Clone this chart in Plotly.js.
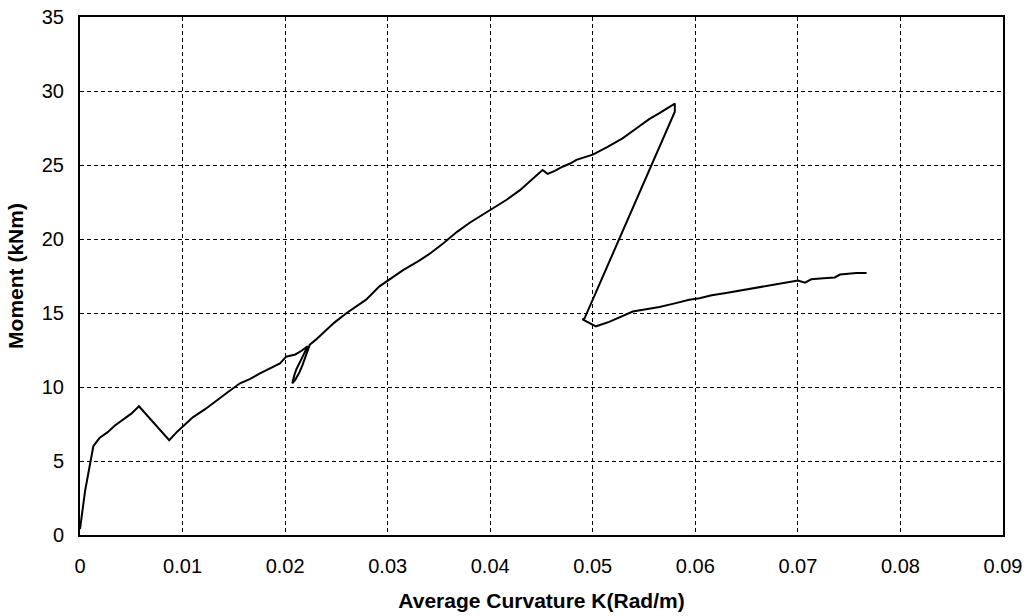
<!DOCTYPE html>
<html>
<head>
<meta charset="utf-8">
<script src="https://cdn.plot.ly/plotly-3.0.1.min.js"></script>
<style>html,body{margin:0;padding:0;background:#fff;}#chart{width:1032px;height:616px;}</style>
</head>
<body>
<div id="chart"></div>
<script>
// Average curvature K (Rad/m)
var curvature = [
  0.0000, 0.0005, 0.0013, 0.0019, 0.0027, 0.0034, 0.0044, 0.0050, 0.00575,
  0.0072, 0.0087, 0.0095, 0.0101, 0.0110, 0.0122, 0.0133, 0.0145, 0.0156,
  0.0166, 0.0175, 0.0185, 0.0195, 0.0201, 0.0205, 0.0210, 0.0216, 0.0222,
  0.0216, 0.0211, 0.0209, 0.0207, 0.0207, 0.0210, 0.0214, 0.0217, 0.0221, 0.0224,
  0.0230, 0.0237, 0.0248, 0.0260, 0.0270, 0.0279, 0.0292, 0.0303, 0.0315,
  0.0330, 0.0342, 0.0354, 0.0368, 0.0380, 0.0392, 0.0403, 0.0416, 0.0429,
  0.0440, 0.0451, 0.0456, 0.0463, 0.0471, 0.0478, 0.0484, 0.0492, 0.0500,
  0.0514, 0.0529, 0.0542, 0.0555, 0.0565, 0.0572, 0.0577, 0.0580, 0.0580,
  0.0492, 0.0490, 0.0497, 0.0503, 0.0516, 0.0528, 0.0539, 0.0552, 0.0565,
  0.0580, 0.0594, 0.0604, 0.0616, 0.0630, 0.0643, 0.0656, 0.0669, 0.0685,
  0.0700, 0.0707, 0.0713, 0.0725, 0.0736, 0.0741, 0.0750, 0.0757, 0.0767
];
// Moment (kNm)
var moment = [
  0.4, 3.0, 6.0, 6.55, 6.95, 7.4, 7.9, 8.2, 8.7,
  7.6, 6.4, 7.0, 7.4, 7.95, 8.5, 9.1, 9.7, 10.25,
  10.55, 10.9, 11.25, 11.6, 12.05, 12.1, 12.2, 12.45, 12.75,
  11.9, 11.2, 10.8, 10.4, 10.25, 10.5, 11.0, 11.5, 12.2, 12.85,
  13.2, 13.65, 14.35, 15.0, 15.45, 15.9, 16.8, 17.35, 17.9,
  18.5, 19.05, 19.7, 20.5, 21.1, 21.6, 22.07, 22.65, 23.3,
  23.95, 24.66, 24.4, 24.6, 24.9, 25.1, 25.35, 25.5, 25.7,
  26.2, 26.8, 27.45, 28.1, 28.5, 28.8, 29.0, 29.15, 28.6,
  14.64, 14.57, 14.3, 14.1, 14.4, 14.75, 15.1, 15.25, 15.4,
  15.65, 15.9, 16.0, 16.2, 16.35, 16.5, 16.65, 16.8, 17.0,
  17.2, 17.05, 17.28, 17.35, 17.4, 17.6, 17.65, 17.7, 17.7
];
var xTicks = [0, 0.01, 0.02, 0.03, 0.04, 0.05, 0.06, 0.07, 0.08, 0.09];
var xTickText = ["0", "0.01", "0.02", "0.03", "0.04", "0.05", "0.06", "0.07", "0.08", "0.09"];
var yTicks = [0, 5, 10, 15, 20, 25, 30, 35];

var trace = {
  x: curvature, y: moment, type: 'scatter', mode: 'lines',
  line: {color: '#000', width: 2}, hoverinfo: 'none'
};
var fam = 'Liberation Sans, Arial, sans-serif';
var tickFont = {family: fam, size: 20, color: '#000'};
var titleFont = {family: fam, size: 21, color: '#000', weight: 'bold'};
var layout = {
  width: 1032, height: 616,
  margin: {l: 80, r: 29, t: 17, b: 81},
  paper_bgcolor: '#fff', plot_bgcolor: '#fff',
  showlegend: false,
  font: tickFont,
  xaxis: {
    range: [0, 0.09], tickvals: xTicks, ticktext: xTickText,
    showgrid: true, gridcolor: '#000', griddash: '4px,3px', gridwidth: 1,
    showline: true, linecolor: '#000', linewidth: 2, mirror: true,
    zeroline: false, ticks: '', ticklen: 0, tickfont: tickFont,
    ticklabelstandoff: 12,
    title: {text: 'Average Curvature K(Rad/m)', font: titleFont, standoff: 17}
  },
  yaxis: {
    range: [0, 35], tickvals: yTicks,
    showgrid: true, gridcolor: '#000', griddash: '4px,3px', gridwidth: 1,
    showline: true, linecolor: '#000', linewidth: 2, mirror: true,
    zeroline: false, ticks: '', ticklen: 0, tickfont: tickFont,
    ticklabelstandoff: 10,
    title: {text: 'Moment (kNm)', font: titleFont, standoff: 12}
  }
};
Plotly.newPlot('chart', [trace], layout, {staticPlot: true, displayModeBar: false});
</script>
</body>
</html>
